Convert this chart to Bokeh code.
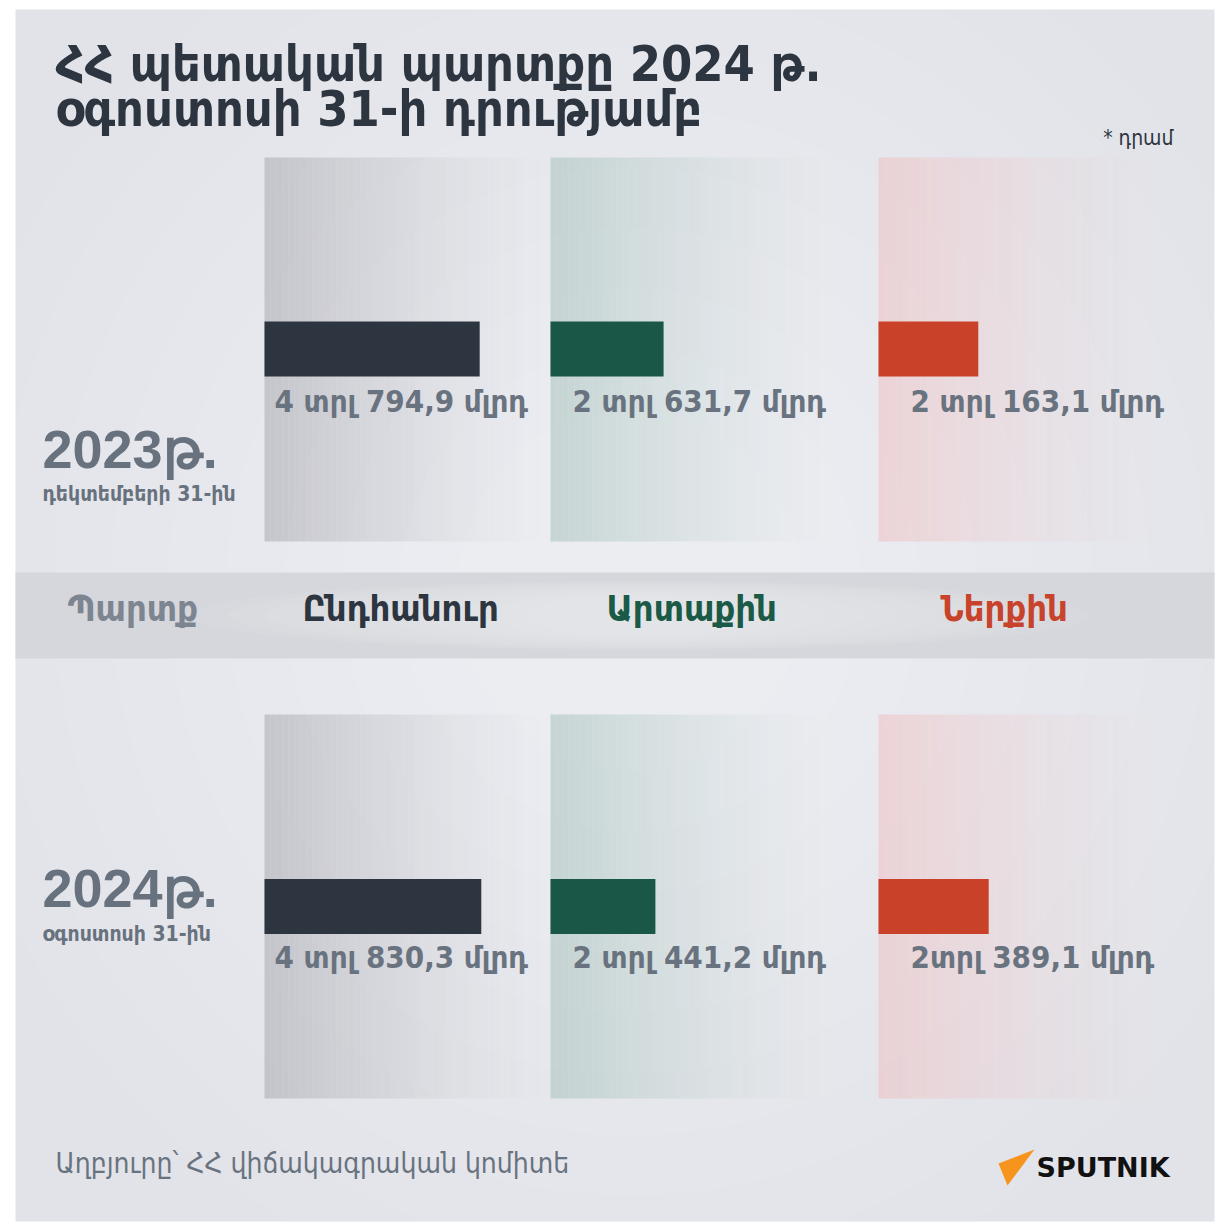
from bokeh.plotting import figure
from bokeh.models import Range1d
from bokeh.embed import file_html
from bokeh.resources import INLINE
from bokeh.core.properties import value

# ---------------- data ----------------
title_lines = ["ՀՀ պետական պարտքը 2024 թ.", "օգոստոսի 31-ի դրությամբ"]
unit_note = "* դրամ"
categories = ["Ընդհանուր", "Արտաքին", "Ներքին"]
row_header = "Պարտք"
years = ["2023թ.", "2024թ."]
year_dates = ["դեկտեմբերի 31-ին", "օգոստոսի 31-ին"]
debt_2023 = [4794.9, 2631.7, 2163.1]   # billion AMD
debt_2024 = [4830.3, 2441.2, 2389.1]
labels_2023 = ["4 տրլ  794,9 մլրդ", "2 տրլ  631,7 մլրդ", "2 տրլ  163,1 մլրդ"]
labels_2024 = ["4 տրլ  830,3 մլրդ", "2 տրլ  441,2 մլրդ", "2տրլ  389,1 մլրդ"]
source = "Աղբյուրը՝ ՀՀ վիճակագրական կոմիտե"
brand = "SPUTNIK"

# ---------------- style / layout ----------------
W = H = 1230
FONT = "DejaVu Sans Condensed"
DARK = "#2d3640"
GREY_TXT = "#69737f"
col_colors = ["#2d3640", "#1b5746", "#c94128"]
head_colors = ["#2d3640", "#1b5a47", "#c8432b"]
tint_colors = ["#a8a9b0", "#a6c2bb", "#f0b3b5"]
tint_alpha0 = [0.55, 0.55, 0.42]
col_origin = [264, 550, 878]
col_px_per_unit = [0.04488, 0.04297, 0.04613]
label_x = [274, 572, 910]
head_x = [302, 606, 940]
row_panel = [(157, 541), (714, 1098)]
row_bar_center = [348.5, 906]
bar_h = 55
row_label_y = [400, 956]

p = figure(width=W, height=H, output_backend="svg", toolbar_location=None,
           x_range=Range1d(0, W), y_range=Range1d(H, 0),
           x_axis_location=None, y_axis_location=None, min_border=0,
           background_fill_color="white", border_fill_color="white",
           outline_line_color=None)
p.grid.visible = False

# per-column value scales
for i, o in enumerate(col_origin):
    k = col_px_per_unit[i]
    p.extra_x_ranges[f"c{i}"] = Range1d(start=-o / k, end=(W - o) / k)

# background panel
p.quad(left=15, right=1214, top=9, bottom=1221, fill_color="#e2e3e8", line_color=None)
# soft radial glow
nglow = 10
for g in range(nglow):
    r = 660 - g * 55
    p.ellipse(x=630, y=590, width=2 * r * 1.05, height=2 * r * 1.1,
              fill_color="white", fill_alpha=0.065, line_color=None)

# column gradient panels: adjacent pixel-aligned strips, fading alpha
sw = 6
nstrip = 47
for i, o in enumerate(col_origin):
    lefts = [o + s * sw for s in range(nstrip)]
    rights = [o + (s + 1) * sw for s in range(nstrip)]
    alphas = [tint_alpha0[i] * (1 - s / nstrip) ** 1.4 for s in range(nstrip)]
    for (t, b) in row_panel:
        p.quad(left=lefts, right=rights, top=t, bottom=b,
               fill_color=tint_colors[i], fill_alpha=alphas, line_color=None)

# middle band
p.quad(left=15, right=1214, top=572, bottom=658, fill_color="#d6d7dd", line_color=None)
for g in range(10):
    p.ellipse(x=640, y=615, width=900 - g * 75, height=70 - g * 3,
              fill_color="white", fill_alpha=0.055, line_color=None)

# bars
for r, vals in enumerate([debt_2023, debt_2024]):
    for i, v in enumerate(vals):
        p.hbar(y=row_bar_center[r], height=bar_h, left=0, right=v,
               x_range_name=f"c{i}", fill_color=col_colors[i], line_color=None)

# value labels
for r, labs in enumerate([labels_2023, labels_2024]):
    p.text(x=label_x, y=[row_label_y[r]] * 3, text=labs,
           text_font=value(FONT), text_font_style="bold", text_font_size="31px",
           text_color=GREY_TXT, text_baseline="middle", text_align="left")

# title
p.text(x=[55, 55], y=[63, 108], text=title_lines, text_font=value(FONT),
       text_font_style="bold", text_font_size="50px", text_color=DARK,
       text_baseline="middle")
p.text(x=[1173], y=[137], text=[unit_note], text_font=value(FONT),
       text_font_size="21px", text_color=DARK, text_align="right",
       text_baseline="middle")

# year labels
for r, (yb, sb) in enumerate([(448, 493), (887, 933)]):
    p.text(x=[42], y=[yb], text=[years[r]], text_font=value("Liberation Sans"),
           text_font_style="bold", text_font_size="54px", text_color="#67727e",
           text_baseline="middle")
    p.text(x=[42], y=[sb], text=[year_dates[r]], text_font=value(FONT),
           text_font_style="bold", text_font_size="21px", text_color="#67727e",
           text_baseline="middle")

# headers
p.text(x=[67], y=[608], text=[row_header], text_font=value(FONT), text_font_style="bold",
       text_font_size="36px", text_color="#7d8590", text_baseline="middle")
p.text(x=head_x, y=[608] * 3, text=categories, text_font=value(FONT), text_font_style="bold",
       text_font_size="36px", text_color=head_colors, text_baseline="middle")

# footer
p.text(x=[55], y=[1163], text=[source], text_font=value(FONT), text_font_size="28px",
       text_color="#69737f", text_baseline="middle")
p.patch(x=[998, 1034, 1007], y=[1163, 1149, 1185], fill_color="#f7941d", line_color=None)
p.text(x=[1036], y=[1167], text=[brand], text_font=value("DejaVu Sans"), text_font_style="bold",
       text_font_size="27px", text_color="#111111", text_baseline="middle")

open("out.html", "w").write(file_html(p, INLINE))
